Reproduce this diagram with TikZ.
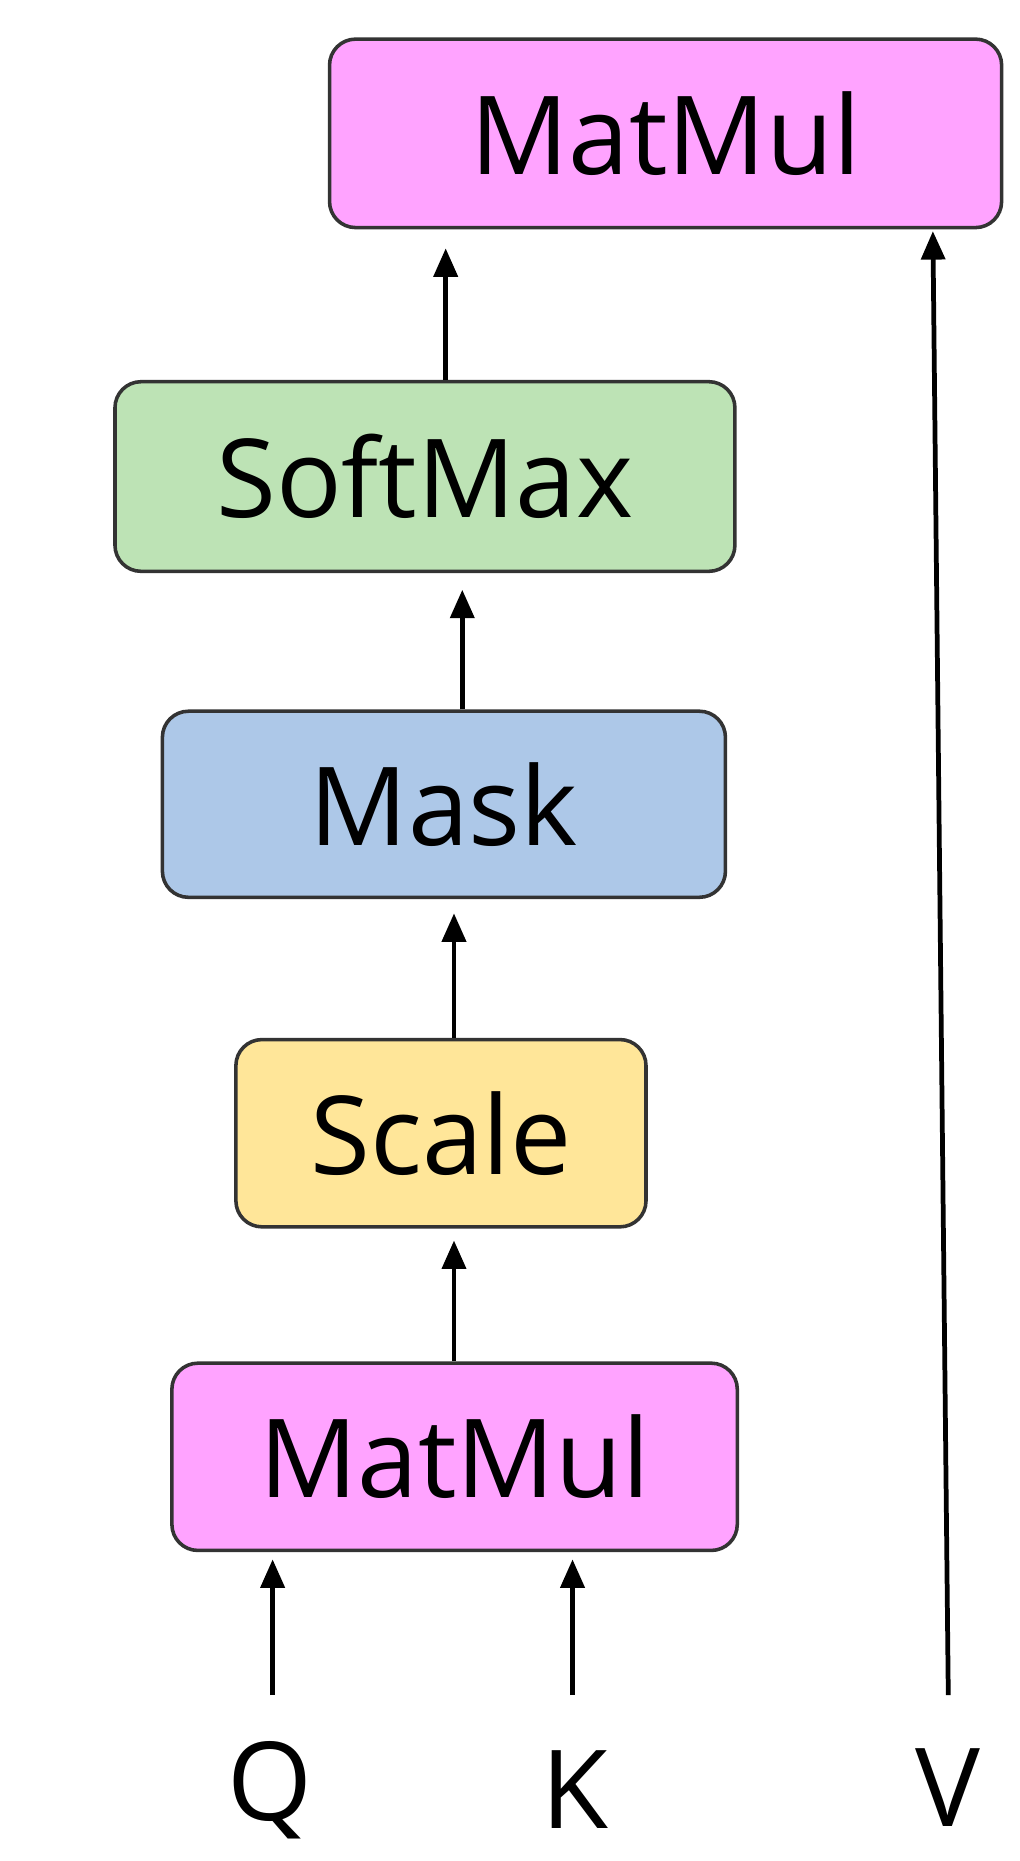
\documentclass[tikz,border=0pt]{standalone}
\usepackage{fontspec}
\setmainfont{Open Sans}
\usetikzlibrary{arrows.meta}
\definecolor{pinkc}{HTML}{FFA3FF}
\definecolor{greenc}{HTML}{BDE3B5}
\definecolor{bluec}{HTML}{ADC8E8}
\definecolor{yellowc}{HTML}{FFE699}
\definecolor{edgec}{HTML}{333333}
\begin{document}
\begin{tikzpicture}[x=1pt,y=-1pt,
  box/.style={draw=edgec,line width=3,rounded corners=22,inner sep=0,font=\fontsize{92}{100}\selectfont},
  lab/.style={inner sep=0,font=\fontsize{92}{100}\selectfont},
  arr/.style={line width=4,-{Triangle[length=24,width=20]}}]
\useasboundingbox (0,0) rectangle (860,1570);
\node[box,fill=pinkc,minimum width=567,minimum height=159] (mm2) at (561.5,112.5) {MatMul};
\node[box,fill=greenc,minimum width=523,minimum height=160] (sm) at (358.5,402) {SoftMax};
\node[box,fill=bluec,minimum width=475,minimum height=157] (mask) at (374.5,678.5) {Mask};
\node[box,fill=yellowc,minimum width=346,minimum height=158] (sc) at (372,956) {Scale};
\node[box,fill=pinkc,minimum width=477,minimum height=158] (mm1) at (383.5,1229) {MatMul};
\node[lab] (q) at (228,1510) {Q};
\node[lab] (k) at (485,1510) {K};
\node[lab] (v) at (800,1508) {V};
\coordinate (qs) at (230,1430);
\coordinate (ks) at (483,1430);
\coordinate (vs) at (800,1430);
\coordinate (ve) at (787,195);
\draw[arr,shorten >=16] (sm.north -| 376,0) -- (mm2.south -| 376,0);
\draw[arr,shorten >=14] (mask.north -| 390,0) -- (sm.south -| 390,0);
\draw[arr,shorten >=12] (sc.north -| 383,0) -- (mask.south -| 383,0);
\draw[arr,shorten >=10] (mm1.north -| 383,0) -- (sc.south -| 383,0);
\draw[arr,shorten >=6] (qs) -- (mm1.south -| qs);
\draw[arr,shorten >=6] (ks) -- (mm1.south -| ks);
\draw[arr] (vs) -- (ve);
\end{tikzpicture}
\end{document}
